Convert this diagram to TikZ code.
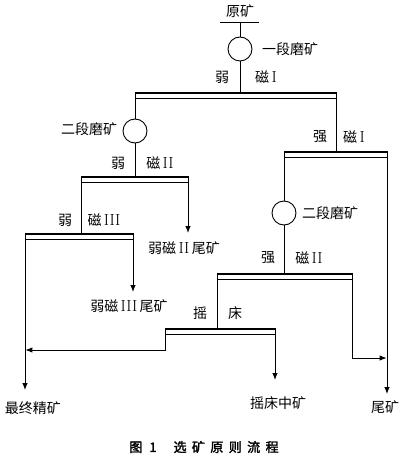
\documentclass[tikz,border=0pt]{standalone}
\usepackage{fontspec}
\newfontfamily\cjk{Noto Sans CJK SC}
\newfontfamily\cjkbf[FakeBold=2]{Noto Sans CJK SC}
\usetikzlibrary{arrows.meta}
\newcommand\RN[1]{{\rmfamily\fontsize{16}{16}\selectfont #1}}
\begin{document}
\begin{tikzpicture}[x=1pt,y=-1pt,
  every node/.style={inner sep=0pt, outer sep=0pt},
  txt/.style={font=\cjk\fontsize{14}{14}\selectfont},
  mill/.style={circle, draw, line width=0.9pt, minimum size=24pt},
  bar/.style={rectangle, draw, line width=0.8pt, minimum height=6.5pt,
    path picture={\fill (path picture bounding box.north west) rectangle ([yshift=-2.4pt]path picture bounding box.north east);}},
  flow/.style={line width=0.9pt},
  arr/.style={flow, -{Latex[length=7pt,width=5.5pt]}},
]
\useasboundingbox (0,0) rectangle (408,468);
% feed
\node[txt] (feed) at (240,11) {原矿};
\coordinate (feedL) at (220,22);
\coordinate (feedR) at (259,22);
\coordinate (feedC) at (240,22);
\draw[flow] (feedL) -- (feedR);
\node[mill] (C1) at (240,49) {};
\node[txt, anchor=west] (lC1) at (262,49) {一段磨矿};
\draw[flow] (feedC) -- (C1.north);
% weak magnetic I
\node[bar, minimum width=201pt] (B1) at (235.5,95.25) {};
\draw[flow] (C1.south) -- (C1.south |- B1.north);
\node[txt] (lB1a) at (222,77) {弱};
\node[txt] (lB1b) at (266,77) {磁\,\RN{I}};
% second grinding (left)
\node[mill] (C2) at (135,131) {};
\node[txt, anchor=east] (lC2) at (117,129) {二段磨矿};
\draw[flow] (B1.south west) -- (C2.north);
% weak magnetic II
\node[bar, minimum width=107pt] (B2) at (134.5,179.25) {};
\draw[flow] (C2.south) -- (C2.south |- B2.north);
\node[txt] (lB2a) at (118,163) {弱};
\node[txt] (lB2b) at (160,163) {磁\,\RN{II}};
\coordinate (t2) at (188,233);
\draw[arr] (B2.south east) -- (t2);
\node[txt] (lt2) at (184,248) {弱磁\,\RN{II}\,尾矿};
% weak magnetic III
\node[bar, minimum width=108pt] (B4) at (79,236.25) {};
\draw[flow] (B2.south west) -- (B2.south west |- B4.north);
\node[txt] (lB4a) at (65,220) {弱};
\node[txt] (lB4b) at (104,220) {磁\,\RN{III}};
\coordinate (t3) at (133,292);
\draw[arr] (B4.south east) -- (t3);
\node[txt] (lt3) at (129,306) {弱磁\,\RN{III}\,尾矿};
\coordinate (tF) at (25,390);
\draw[arr] (B4.south west) -- (tF);
\node[txt] (lF) at (33,408) {最终精矿};
% strong magnetic I
\node[bar, minimum width=103pt] (B3) at (335.5,154.25) {};
\draw[flow] (B1.south east) -- (B1.south east |- B3.north);
\node[txt] (lB3a) at (320,137) {强};
\node[txt] (lB3b) at (354,137) {磁\,\RN{I}};
% second grinding (right)
\node[mill] (C3) at (284,213) {};
\node[txt, anchor=west] (lC3) at (302,213) {二段磨矿};
\draw[flow] (B3.south west) -- (C3.north);
% strong magnetic II
\node[bar, minimum width=135pt] (B5) at (284.5,276.25) {};
\draw[flow] (C3.south) -- (C3.south |- B5.north);
\node[txt] (lB5a) at (268,258) {强};
\node[txt] (lB5b) at (309,258) {磁\,\RN{II}};
% shaking table
\node[bar, minimum width=110pt] (B6) at (220,331.25) {};
\draw[flow] (B5.south west) -- (B5.south west |- B6.north);
\node[txt] (lB6a) at (200,313) {摇};
\node[txt] (lB6b) at (235,313) {床};
\coordinate (jL) at (25.4,350);
\draw[arr] (B6.south west) |- (jL);
\coordinate (tM) at (275,380);
\draw[arr] (B6.south east) -- (tM);
\node[txt] (lM) at (278,403) {摇床中矿};
\coordinate (jR) at (386.6,358);
\draw[arr] (B5.south east) |- (jR);
\coordinate (tT) at (387,394);
\draw[arr] (B3.south east) -- (tT);
\node[txt] (lT) at (385,407) {尾矿};
% caption
\node[font=\cjkbf\fontsize{13}{13}\selectfont] (cap) at (204,447) {图\kern7pt 1\kern17pt 选\kern5.4pt 矿\kern5.4pt 原\kern5.4pt 则\kern5.4pt 流\kern5.4pt 程};
\end{tikzpicture}
\end{document}
